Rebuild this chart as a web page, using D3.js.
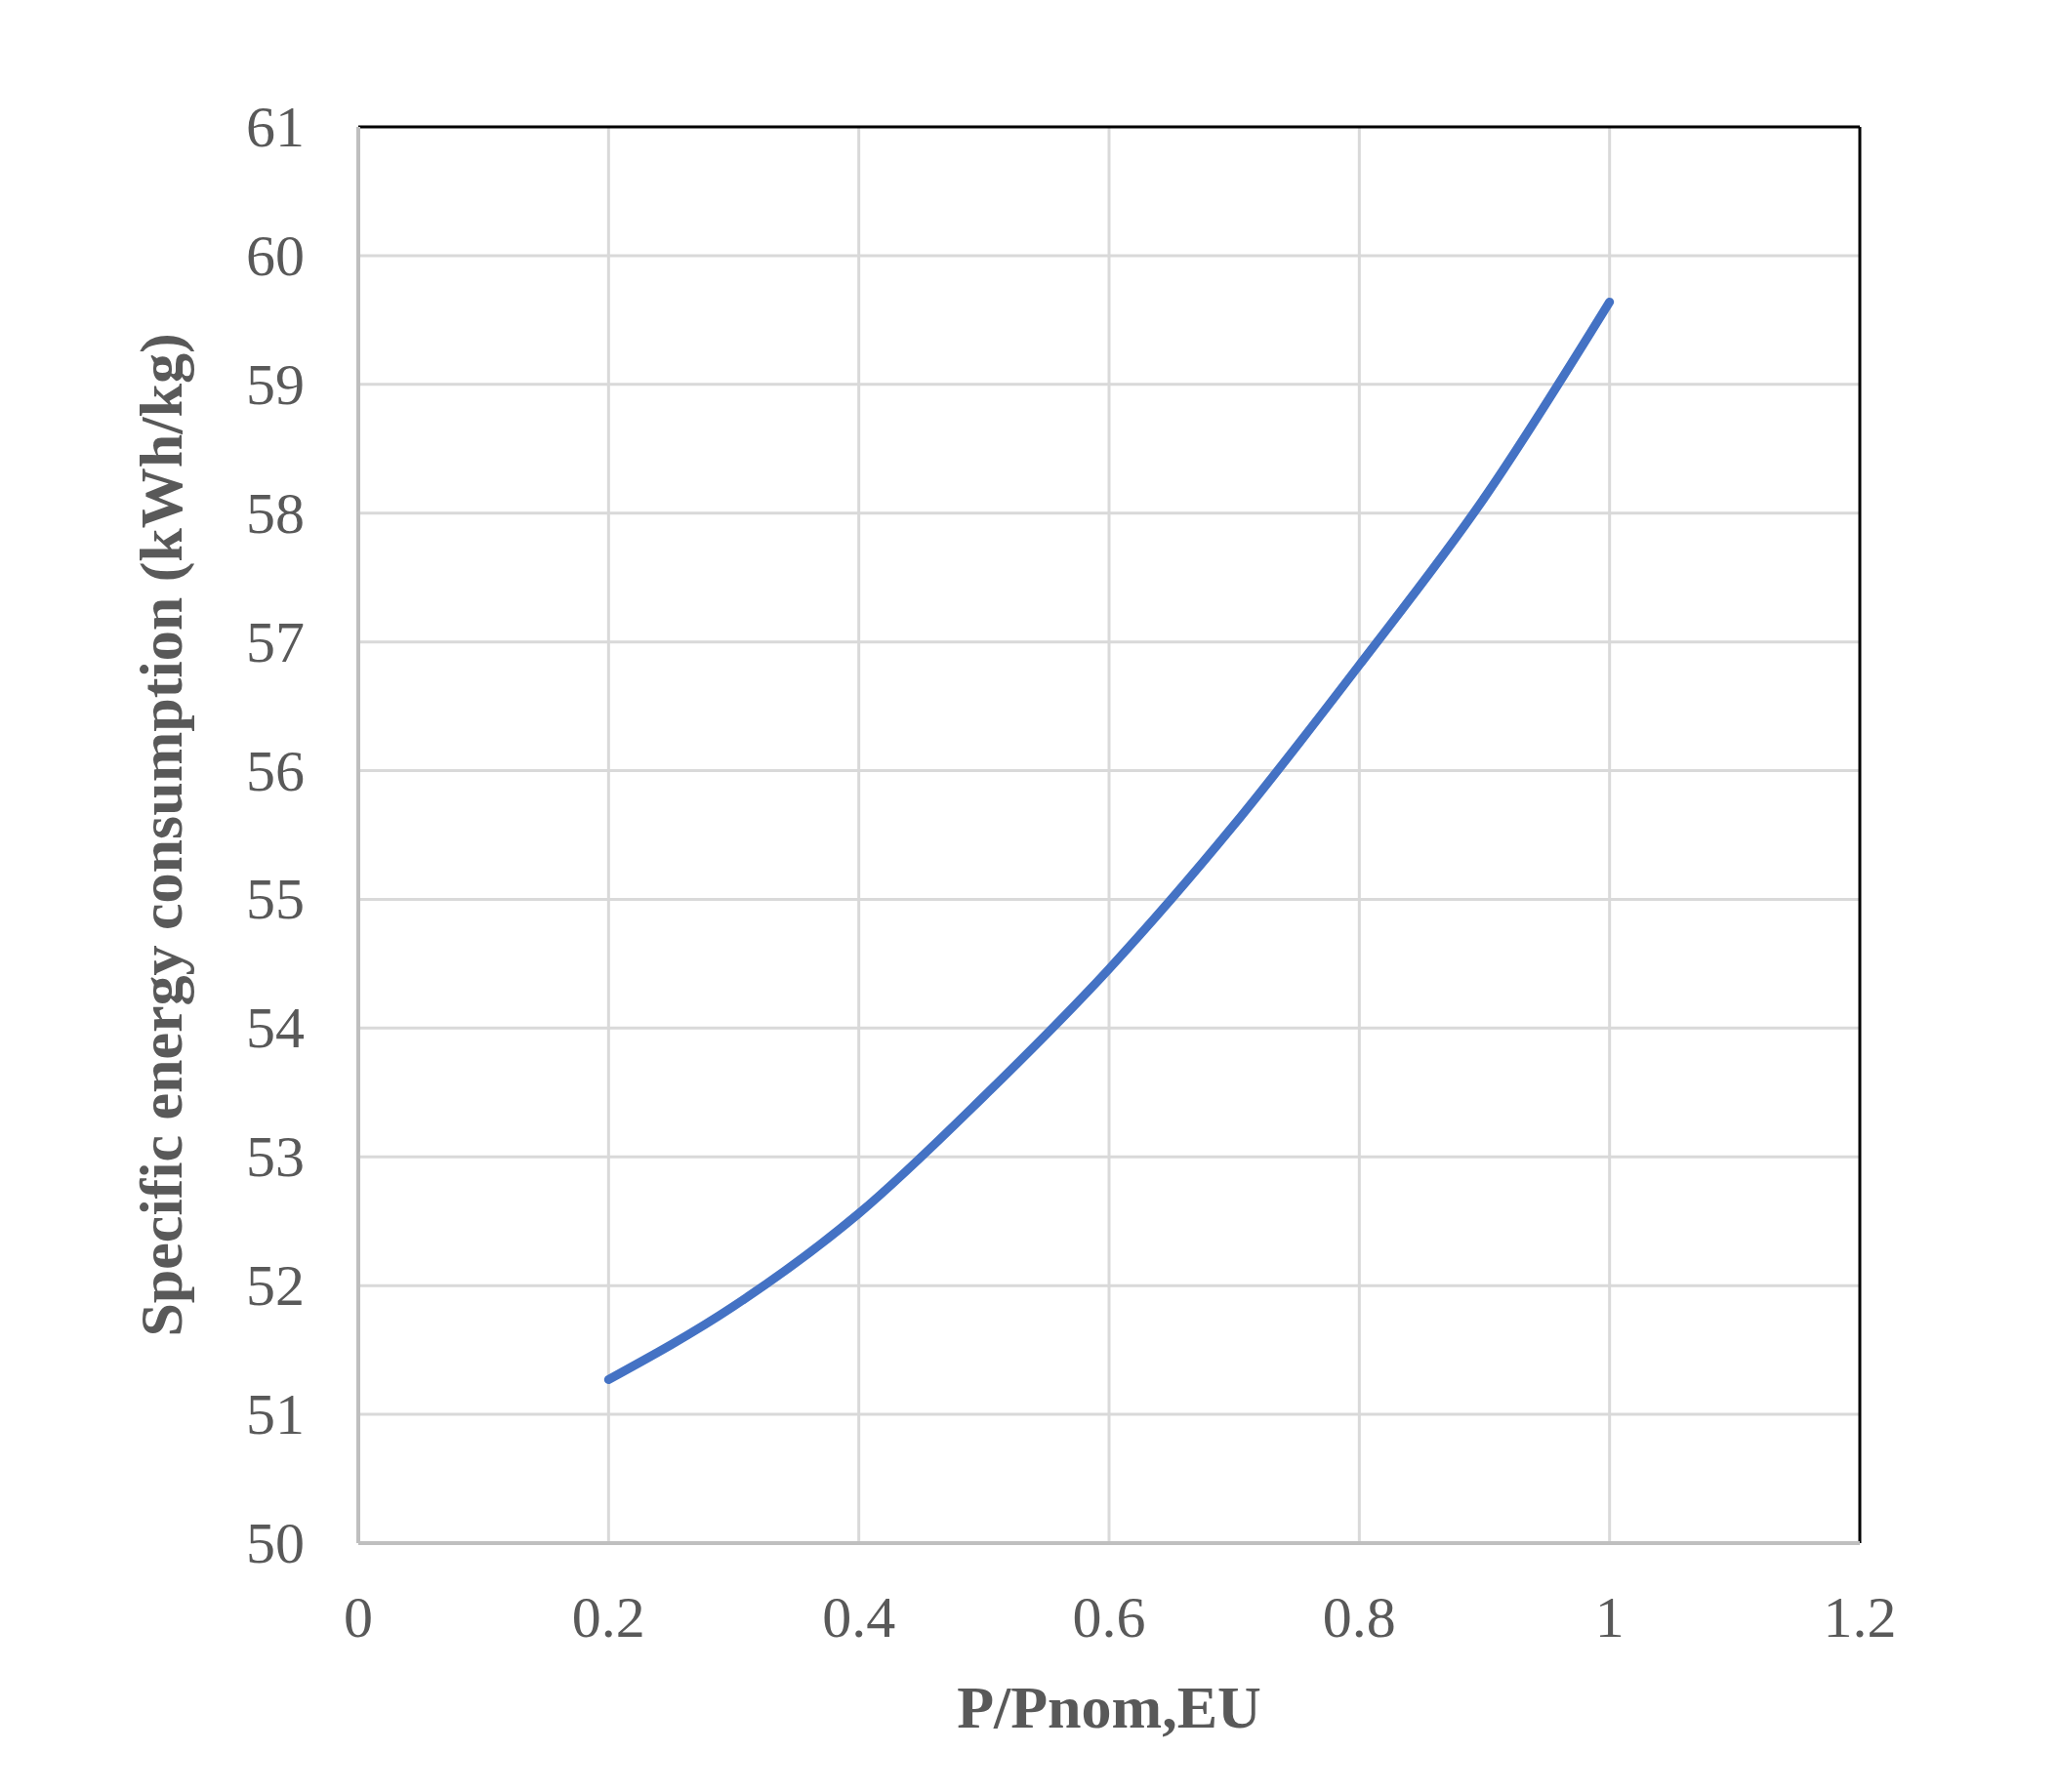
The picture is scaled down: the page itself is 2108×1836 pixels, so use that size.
<!DOCTYPE html>
<html><head><meta charset="utf-8">
<script src="https://cdn.jsdelivr.net/npm/d3@7"></script>
<style>body{margin:0;background:#fff}</style></head>
<body><svg id="c" width="2108" height="1836"></svg>
<script>
const xValues=[0.2,0.3,0.4,0.5,0.6,0.7,0.8,0.9,1.0];
const yValues=[51.27,51.84,52.56,53.47,54.46,55.58,56.82,58.12,59.64];
const xTicks=[0,0.2,0.4,0.6,0.8,1,1.2];
const yTicks=[50,51,52,53,54,55,56,57,58,59,60,61];
const svg=d3.select("#c");
const L=367,R=1905,T=130,B=1581;
const x=d3.scaleLinear().domain([0,1.2]).range([L,R]);
const y=d3.scaleLinear().domain([50,61]).range([B,T]);
const font="'Liberation Serif','Times New Roman',serif";
svg.append("g").selectAll("line").data(xTicks.slice(1,-1)).join("line")
 .attr("x1",d=>x(d)).attr("x2",d=>x(d)).attr("y1",T).attr("y2",B).attr("stroke","#d9d9d9").attr("stroke-width",3);
svg.append("g").selectAll("line").data(yTicks.slice(1,-1)).join("line")
 .attr("x1",L).attr("x2",R).attr("y1",d=>y(d)).attr("y2",d=>y(d)).attr("stroke","#d9d9d9").attr("stroke-width",3);
svg.append("line").attr("x1",L).attr("x2",R).attr("y1",T).attr("y2",T).attr("stroke","#000").attr("stroke-width",3);
svg.append("line").attr("x1",R).attr("x2",R).attr("y1",T).attr("y2",B).attr("stroke","#000").attr("stroke-width",3);
svg.append("line").attr("x1",L).attr("x2",L).attr("y1",T).attr("y2",B).attr("stroke","#bfbfbf").attr("stroke-width",4);
svg.append("line").attr("x1",L).attr("x2",R).attr("y1",B).attr("y2",B).attr("stroke","#bfbfbf").attr("stroke-width",4);
svg.append("g").selectAll("text").data(yTicks).join("text")
 .attr("x",312).attr("y",d=>y(d)+20).attr("text-anchor","end").attr("font-family",font).attr("font-size",60).attr("fill","#595959").text(d=>d);
svg.append("g").selectAll("text").data(xTicks).join("text")
 .attr("x",d=>x(d)).attr("y",1677).attr("text-anchor","middle").attr("font-family",font).attr("font-size",60).attr("fill","#595959").text(d=>d);
svg.append("text").attr("x",1136).attr("y",1770).attr("text-anchor","middle").attr("font-family",font).attr("font-size",62).attr("font-weight","bold").attr("fill","#595959").text("P/Pnom,EU");
svg.append("text").attr("transform","translate(186,"+((T+B)/2)+") rotate(-90)").attr("text-anchor","middle").attr("font-family",font).attr("font-size",62).attr("font-weight","bold").attr("fill","#595959").text("Specific energy consumption (kWh/kg)");
const line=d3.line().x((d,i)=>x(xValues[i])).y(d=>y(d)).curve(d3.curveMonotoneX);
svg.append("path").datum(yValues).attr("d",line).attr("fill","none").attr("stroke","#4472C4").attr("stroke-width",9).attr("stroke-linecap","round");
</script></body></html>
